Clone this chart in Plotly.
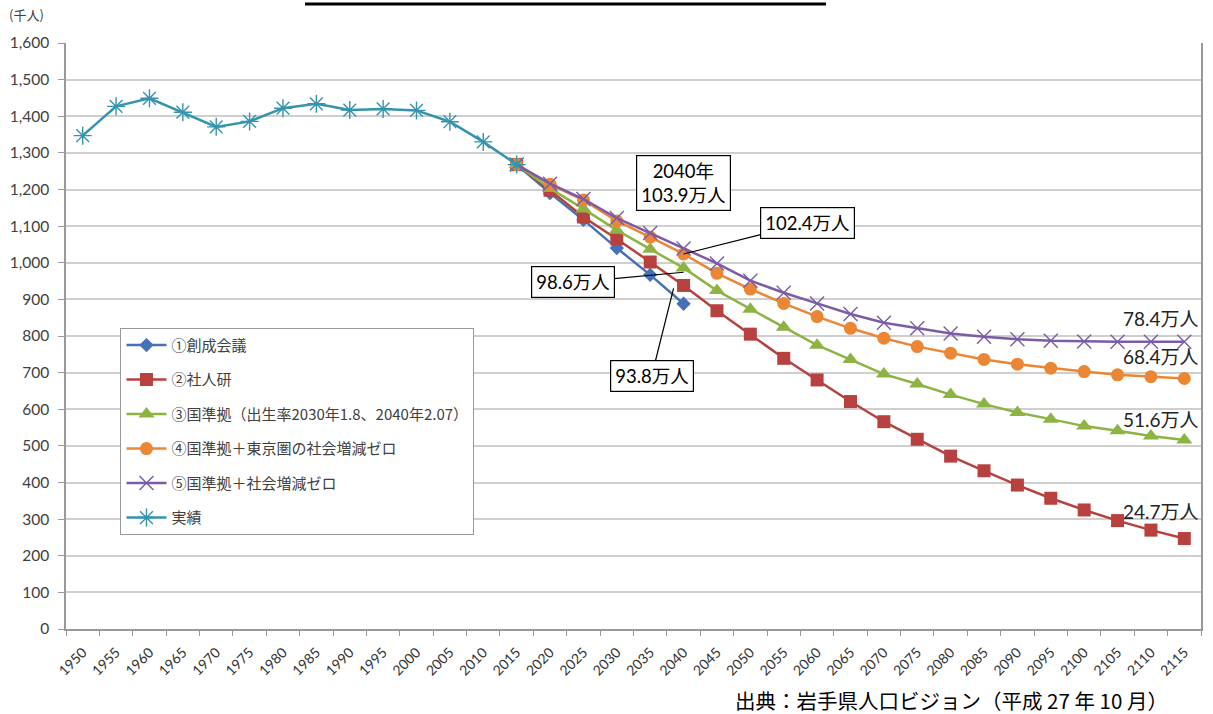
import plotly.graph_objects as go

# ---- data ----
categories = [str(y) for y in range(1950, 2120, 5)]
actual_years = ["1950", "1955", "1960", "1965", "1970", "1975", "1980", "1985",
                "1990", "1995", "2000", "2005", "2010", "2015"]
actual_vals = [1347, 1427, 1449, 1411, 1371, 1386, 1422, 1434, 1417, 1420, 1416, 1385, 1330, 1268]

proj_years = ["2015", "2020", "2025", "2030", "2035", "2040", "2045", "2050", "2055", "2060",
              "2065", "2070", "2075", "2080", "2085", "2090", "2095", "2100", "2105", "2110", "2115"]
blue_years = ["2015", "2020", "2025", "2030", "2035", "2040"]
s1_sosei = [1268, 1190, 1117, 1040, 967, 888]
s2_shajinken = [1268, 1198, 1125, 1065, 1002, 938, 869, 805, 739, 680, 621, 566, 518, 472, 432,
                393, 357, 325, 296, 270, 247]
s3_kuni = [1268, 1203, 1147, 1089, 1037, 986, 924, 873, 824, 775, 736, 696, 669, 640, 614,
           591, 573, 554, 541, 527, 516]
s4_tokyo = [1268, 1214, 1171, 1114, 1070, 1024, 971, 928, 889, 853, 821, 794, 771, 753, 736,
            723, 712, 703, 694, 689, 684]
s5_zero = [1268, 1216, 1174, 1122, 1081, 1039, 998, 951, 918, 889, 860, 836, 821, 807, 798,
           791, 787, 785, 784, 784, 784]

names = ["①創成会議", "②社人研", "③国準拠（出生率2030年1.8、2040年2.07）",
         "④国準拠＋東京圏の社会増減ゼロ", "⑤国準拠＋社会増減ゼロ", "実績"]

FONT = "Lato, 'Noto Sans CJK JP', sans-serif"
JFONT = "'Noto Sans CJK JP', sans-serif"

fig = go.Figure()

series = [
    (blue_years, s1_sosei, names[0], "#4372B8", dict(symbol="diamond", size=11)),
    (proj_years, s2_shajinken, names[1], "#B7413F", dict(symbol="square", size=13)),
    (proj_years, s3_kuni, names[2], "#8DB443", dict(symbol="triangle-up", size=14)),
    (proj_years, s4_tokyo, names[3], "#EB8634", dict(symbol="circle", size=13)),
    (proj_years, s5_zero, names[4], "#7B5BA6", dict(symbol="x-thin-open", size=14,
                                                    line=dict(width=1.4, color="#7B5BA6"))),
    (actual_years, actual_vals, names[5], "#3593AE", dict(symbol="asterisk-open", size=15,
                                                          line=dict(width=1.4, color="#3593AE"))),
]
for i, (xs, ys, nm, col, mk) in enumerate(series):
    fig.add_trace(go.Scatter(
        x=xs, y=ys, name=nm, mode="lines+markers",
        line=dict(color=col, width=2.5),
        marker=dict(color=col, **mk),
        legendgroup=f"g{i}",
    ))

# ---- annotations ----
i2040 = categories.index("2040")
box = dict(bordercolor="black", borderwidth=1.2, bgcolor="white", borderpad=4,
           font=dict(family=FONT, size=18.5, color="black"))
fig.add_annotation(x=i2040, y=1218, text="2040年<br>103.9万人", showarrow=False, **box)
fig.add_annotation(x=i2040, y=s4_tokyo[5], text="102.4万人", showarrow=True,
                   arrowhead=0, arrowwidth=1.2, arrowcolor="black", ax=124, ay=-31, **box)
fig.add_annotation(x=i2040, y=s3_kuni[5] - 12, text="98.6万人", showarrow=True,
                   arrowhead=0, arrowwidth=1.2, arrowcolor="black", ax=-111, ay=10, **box)
fig.add_annotation(x=i2040 - 0.3, y=s2_shajinken[5] - 8, text="93.8万人", showarrow=True,
                   arrowhead=0, arrowwidth=1.2, arrowcolor="black", ax=-22, ay=88, **box)

end_labels = [("78.4万人", 849), ("68.4万人", 743), ("51.6万人", 571), ("24.7万人", 322)]
for txt, yv in end_labels:
    fig.add_annotation(x=1.0, xref="paper", y=yv, text=txt, showarrow=False,
                       xanchor="right", font=dict(family=FONT, size=19, color="#222"))

fig.add_annotation(x=-0.052, xref="paper", y=1.048, yref="paper", text="(千人)",
                   showarrow=False, xanchor="left", yanchor="middle",
                   font=dict(family=JFONT, size=13, color="#404040"))
fig.add_annotation(x=0.9727, xref="paper", y=-0.121, yref="paper",
                   text="出典：岩手県人口ビジョン（平成 27 年 10 月）", showarrow=False,
                   xanchor="right", yanchor="middle",
                   font=dict(family=JFONT, size=20.5, color="black"))

# cut-off title underline
fig.add_shape(type="line", xref="paper", yref="paper", x0=0.2106, x1=0.6696,
              y0=1.0666, y1=1.0666, line=dict(color="black", width=3))

fig.update_layout(
    width=1213, height=714,
    margin=dict(l=66, r=12, t=43, b=85),
    paper_bgcolor="white", plot_bgcolor="white",
    font=dict(family=FONT, size=13, color="#404040"),
    showlegend=True,
    legend=dict(x=0.048, y=0.514, xanchor="left", yanchor="top",
                bgcolor="white", bordercolor="#999", borderwidth=1,
                font=dict(family=JFONT, size=15, color="#404040"),
                tracegroupgap=12, itemwidth=40),
    xaxis=dict(type="category", categoryorder="array", categoryarray=categories,
               tickmode="array", tickvals=categories, ticktext=categories,
               tickson="boundaries", ticks="outside", ticklen=5, tickcolor="#999",
               showline=True, linecolor="#999", linewidth=1.5, showgrid=False,
               tickangle=-45, tickfont=dict(family=FONT, size=14, color="#333"),
               ticklabelstandoff=8, automargin=False,
               range=[-0.5, len(categories) - 0.5]),
    yaxis=dict(range=[0, 1600], dtick=100, tickformat=",", showgrid=True,
               gridcolor="#CFCFCF", gridwidth=1.5, showline=True, linecolor="#999",
               linewidth=1.5, mirror=True, ticks="outside", ticklen=6, tickcolor="#999",
               zeroline=False, ticklabelstandoff=6, automargin=False,
               tickfont=dict(family=FONT, size=15.5, color="#404040")),
)

fig.write_html("out.html", config={"displayModeBar": False},
               post_script="document.body.style.margin='0px';")
